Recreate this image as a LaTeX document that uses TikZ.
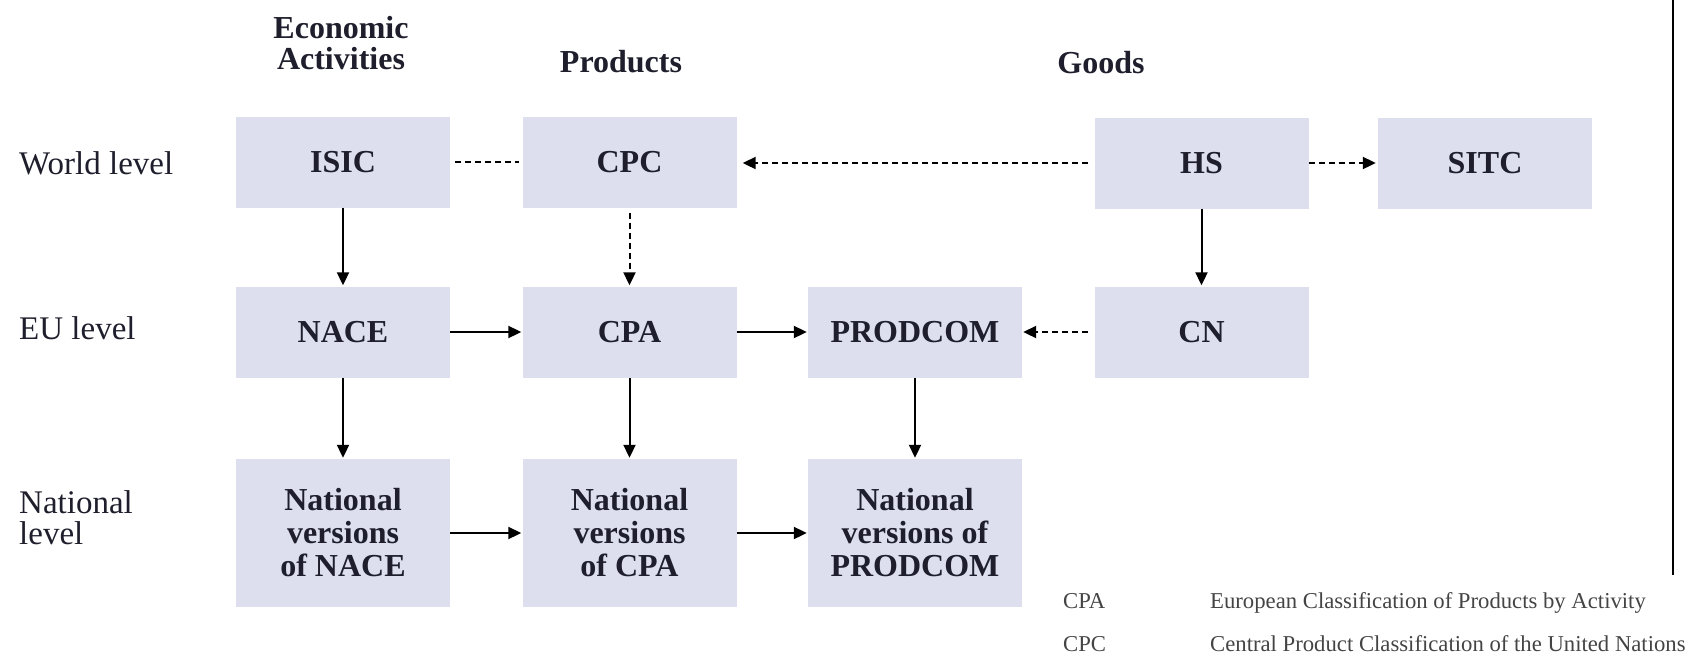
\documentclass[tikz,border=0pt]{standalone}
\usepackage{fontspec}
\setmainfont{Liberation Serif}
\usetikzlibrary{arrows.meta}
\definecolor{boxfill}{HTML}{DDDFEF}
\definecolor{boxtext}{HTML}{1E1E2C}
\definecolor{legtext}{HTML}{444444}
\begin{document}
\begin{tikzpicture}[x=1pt,y=-1pt,
  cbox/.style={fill=boxfill, minimum width=214pt, minimum height=91pt, inner sep=0pt,
    font=\fontsize{32}{33}\selectfont\bfseries, text=boxtext, align=center},
  tbox/.style={cbox, minimum height=148pt},
  hdr/.style={font=\fontsize{32}{31}\selectfont\bfseries, text=boxtext, align=center, inner sep=0pt},
  rowlab/.style={font=\fontsize{33}{31}\selectfont, text=boxtext, align=left, anchor=west, inner sep=0pt},
  leg/.style={font=\fontsize{22.7}{25}\selectfont, text=legtext, anchor=base west, inner sep=0pt},
  arr/.style={line width=2pt, -{Triangle[length=13pt,width=12pt]}},
  darr/.style={arr, dash pattern=on 6pt off 4pt},
  dline/.style={line width=2pt, dash pattern=on 6pt off 4pt}
]
\useasboundingbox (0,0) rectangle (1700,654);

% headers
\node[hdr] (hEA) at (341,43) {Economic\\Activities};
\node[hdr] (hP) at (621,62) {Products};
\node[hdr] (hG) at (1101,63) {Goods};

% row labels
\node[rowlab] (lW) at (19,163) {World level};
\node[rowlab] (lE) at (19,328) {EU level};
\node[rowlab] (lN) at (19,518) {National\\level};

% world row
\node[cbox] (isic) at (343,162) {ISIC};
\node[cbox] (cpc) at (629.5,162) {CPC};
\node[cbox] (hs) at (1201.5,163) {HS};
\node[cbox] (sitc) at (1485,163) {SITC};

% EU row
\node[cbox] (nace) at (343,332) {NACE};
\node[cbox] (cpa) at (629.5,332) {CPA};
\node[cbox] (prodcom) at (915,332) {PRODCOM};
\node[cbox] (cn) at (1201.5,332) {CN};

% national row
\node[tbox] (nnace) at (343,533) {National\\versions\\of NACE};
\node[tbox] (ncpa) at (629.5,533) {National\\versions\\of CPA};
\node[tbox] (nprod) at (915,533) {National\\versions of\\PRODCOM};

% connectors
\draw[dline, shorten <=5pt, shorten >=3pt] (isic.east) -- (cpc.west);
\draw[darr, shorten <=6pt, shorten >=6pt] (hs.west) -- (hs.west -| cpc.east);
\draw[darr, shorten >=2pt] (hs.east) -- (sitc.west);
\draw[arr, shorten >=1pt] (isic.south) -- (nace.north);
\draw[darr, shorten <=5pt, shorten >=1pt] (cpc.south) -- (cpa.north);
\draw[arr, shorten >=1pt] (hs.south) -- (cn.north);
\draw[arr, shorten >=1pt] (nace.east) -- (cpa.west);
\draw[arr, shorten >=1pt] (cpa.east) -- (prodcom.west);
\draw[darr, shorten <=6pt, shorten >=1pt] (cn.west) -- (prodcom.east);
\draw[arr, shorten >=1pt] (nace.south) -- (nnace.north);
\draw[arr, shorten >=1pt] (cpa.south) -- (ncpa.north);
\draw[arr, shorten >=1pt] (prodcom.south) -- (nprod.north);
\draw[arr, shorten >=1pt] (nnace.east) -- (ncpa.west);
\draw[arr, shorten >=1pt] (ncpa.east) -- (nprod.west);

% right rule
\coordinate (rtop) at (1673,0);
\coordinate (rbot) at (1673,575);
\draw[line width=2pt] (rtop) -- (rbot);

% legend
\node[leg] (k1) at (1063,608) {CPA};
\node[leg] (d1) at (1210,608) {European Classification of Products by Activity};
\node[leg] (k2) at (1063,651) {CPC};
\node[leg] (d2) at (1210,651) {Central Product Classification of the United Nations};
\end{tikzpicture}
\end{document}
